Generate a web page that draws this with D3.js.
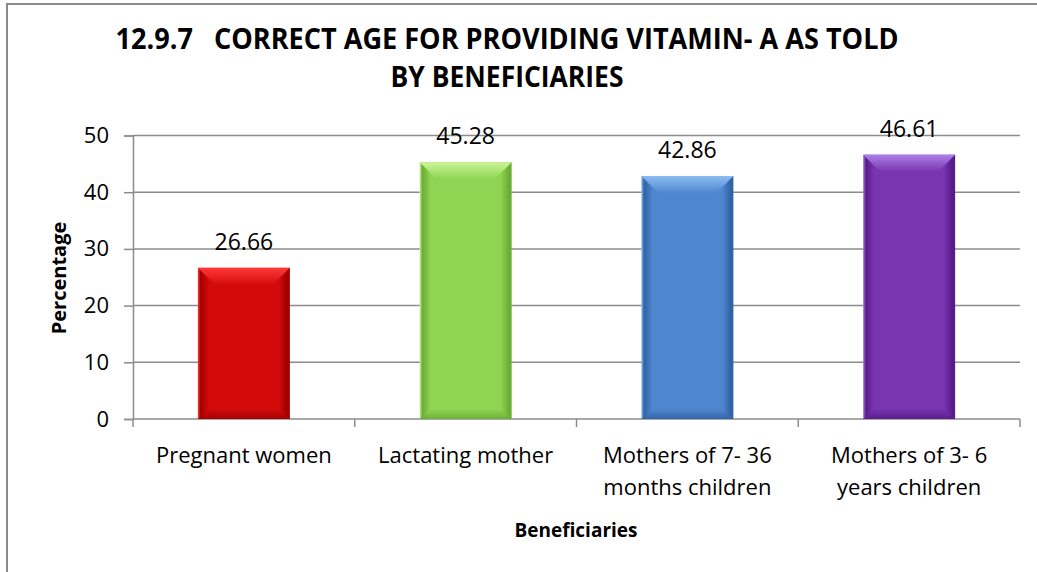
<!DOCTYPE html>
<html>
<head>
<meta charset="utf-8">
<script src="https://cdn.jsdelivr.net/npm/d3@7"></script>
<style>
  html, body { margin: 0; padding: 0; background: #fff; }
  svg { display: block; font-family: "Open Sans", "Noto Sans", sans-serif; }
  .title { white-space: pre; }
</style>
</head>
<body>
<svg id="chart" width="1037" height="572"></svg>
<script>
// Beneficiary groups (two-line labels where wrapped)
const categories = [
  ["Pregnant women"],
  ["Lactating mother"],
  ["Mothers of 7- 36", "months children"],
  ["Mothers of 3- 6", "years children"]
];
const values = [26.66, 45.28, 42.86, 46.61];
const yTicks = [0, 10, 20, 30, 40, 50];
const titleLines = ["12.9.7   CORRECT AGE FOR PROVIDING VITAMIN- A AS TOLD", "BY BENEFICIARIES"];

// bar palette: base, light bevel, dark edge
const palette = [
  { base: "#d30a0a", light: "#ff3a3a", dark: "#a00000" },
  { base: "#8fd453", light: "#ccf597", dark: "#6aae35" },
  { base: "#4f87cf", light: "#8cbcf2", dark: "#3262a4" },
  { base: "#7934b0", light: "#ac80e8", dark: "#561c88" }
];

const svg = d3.select("#chart");
const W = 1037, H = 572;
const plot = { left: 133, right: 1020, top: 135.5, bottom: 419 };

// chart frame
svg.append("rect")
  .attr("x", 7).attr("y", 4)
  .attr("width", W + 20).attr("height", H + 20)
  .attr("fill", "#fff").attr("stroke", "#8a8a8a").attr("stroke-width", 2);

const x = d3.scaleBand()
  .domain(d3.range(categories.length))
  .range([plot.left, plot.right])
  .paddingInner(0.585).paddingOuter(0.2925);

const y = d3.scaleLinear().domain([0, 50]).range([plot.bottom, plot.top]);

// gridlines
svg.append("g").selectAll("line").data(yTicks.filter(d => d > 0)).join("line")
  .attr("x1", plot.left).attr("x2", plot.right)
  .attr("y1", d => y(d)).attr("y2", d => y(d))
  .attr("stroke", "#8c8c8c").attr("stroke-width", 1.5);

// y axis
const yAxis = svg.append("g")
  .attr("transform", `translate(${plot.left},0)`)
  .call(d3.axisLeft(y).tickValues(yTicks).tickSize(9).tickPadding(15).tickFormat(d3.format("d")));
yAxis.select(".domain").attr("stroke", "#8c8c8c").attr("stroke-width", 1.5);
yAxis.selectAll(".tick line").attr("stroke", "#8c8c8c").attr("stroke-width", 1.5);
yAxis.selectAll(".tick text")
  .attr("font-size", 22).attr("fill", "#000")
  .attr("font-family", "'Open Sans', sans-serif");

// x axis baseline and category divider ticks
const step = x.step();
const boundaries = d3.range(categories.length + 1).map(i => plot.left + i * step);
svg.append("line")
  .attr("x1", plot.left).attr("x2", plot.right)
  .attr("y1", y(0)).attr("y2", y(0))
  .attr("stroke", "#8c8c8c").attr("stroke-width", 1.5);
svg.append("g").selectAll("line").data(boundaries).join("line")
  .attr("x1", d => d).attr("x2", d => d)
  .attr("y1", y(0)).attr("y2", y(0) + 8)
  .attr("stroke", "#8c8c8c").attr("stroke-width", 1.5);

// gradients for beveled bars
const defs = svg.append("defs");
palette.forEach((p, i) => {
  const g = defs.append("linearGradient").attr("id", "side" + i)
    .attr("x1", 0).attr("x2", 1).attr("y1", 0).attr("y2", 0);
  g.append("stop").attr("offset", "0%").attr("stop-color", p.light);
  g.append("stop").attr("offset", "3%").attr("stop-color", p.dark);
  g.append("stop").attr("offset", "12%").attr("stop-color", p.base);
  g.append("stop").attr("offset", "88%").attr("stop-color", p.base);
  g.append("stop").attr("offset", "97%").attr("stop-color", p.dark);
  g.append("stop").attr("offset", "100%").attr("stop-color", p.dark);
  const t = defs.append("linearGradient").attr("id", "top" + i)
    .attr("x1", 0).attr("x2", 0).attr("y1", 0).attr("y2", 1);
  t.append("stop").attr("offset", "0%").attr("stop-color", p.light);
  t.append("stop").attr("offset", "100%").attr("stop-color", p.base);
  const b = defs.append("linearGradient").attr("id", "bot" + i)
    .attr("x1", 0).attr("x2", 0).attr("y1", 0).attr("y2", 1);
  b.append("stop").attr("offset", "0%").attr("stop-color", p.base);
  b.append("stop").attr("offset", "100%").attr("stop-color", p.dark);
});

const bevel = 17;
const bars = svg.append("g").selectAll("g").data(values).join("g");
bars.append("rect")
  .attr("x", (d, i) => x(i)).attr("y", d => y(d))
  .attr("width", x.bandwidth()).attr("height", d => y(0) - y(d))
  .attr("fill", (d, i) => `url(#side${i})`);
// top bevel
bars.append("path")
  .attr("d", (d, i) => {
    const x0 = x(i), x1 = x(i) + x.bandwidth(), t = y(d);
    return `M${x0},${t}L${x1},${t}L${x1 - bevel},${t + bevel}L${x0 + bevel},${t + bevel}Z`;
  })
  .attr("fill", (d, i) => `url(#top${i})`);
// bottom bevel
bars.append("path")
  .attr("d", (d, i) => {
    const x0 = x(i), x1 = x(i) + x.bandwidth(), b = y(0);
    return `M${x0},${b}L${x1},${b}L${x1 - 10},${b - 10}L${x0 + 10},${b - 10}Z`;
  })
  .attr("fill", (d, i) => `url(#bot${i})`).attr("opacity", 0.9);

// value labels
svg.append("g").selectAll("text").data(values).join("text")
  .attr("x", (d, i) => x(i) + x.bandwidth() / 2)
  .attr("y", d => y(d) - 18)
  .attr("text-anchor", "middle")
  .attr("font-size", 23).attr("fill", "#000")
  .text(d => d.toFixed(2));

// category labels
const catG = svg.append("g").selectAll("text").data(categories).join("text")
  .attr("x", (d, i) => x(i) + x.bandwidth() / 2)
  .attr("y", 463)
  .attr("text-anchor", "middle")
  .attr("font-size", 22).attr("fill", "#000");
catG.selectAll("tspan").data(d => d).join("tspan")
  .attr("x", function () { return d3.select(this.parentNode).attr("x"); })
  .attr("dy", (d, j) => j === 0 ? 0 : 32)
  .text(d => d);

// title
svg.append("g").selectAll("text").data(titleLines).join("text")
  .attr("class", "title")
  .attr("x", 507)
  .attr("y", (d, i) => 49 + i * 38)
  .attr("text-anchor", "middle")
  .attr("font-size", 28).attr("font-weight", "bold").attr("fill", "#000")
  .attr("textLength", (d, i) => i === 0 ? 783 : 233)
  .attr("lengthAdjust", "spacingAndGlyphs")
  .text(d => d);

// axis titles
svg.append("text")
  .attr("transform", "translate(66,278) rotate(-90)")
  .attr("text-anchor", "middle")
  .attr("font-size", 20).attr("font-weight", "bold").attr("fill", "#000")
  .text("Percentage");
svg.append("text")
  .attr("x", 576).attr("y", 537)
  .attr("text-anchor", "middle")
  .attr("font-size", 19).attr("font-weight", "bold").attr("fill", "#000")
  .text("Beneficiaries");
</script>
</body>
</html>
